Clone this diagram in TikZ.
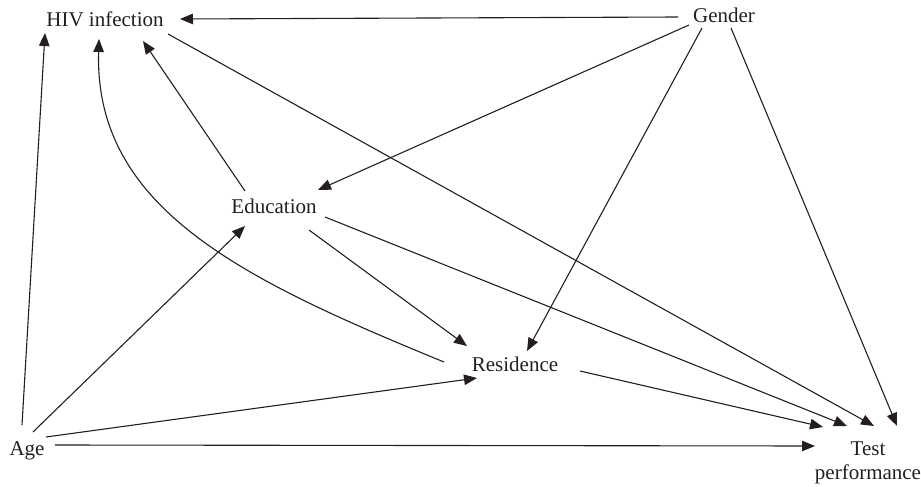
\documentclass[tikz,border=0pt]{standalone}
\usepackage{fontspec}
\setmainfont{Liberation Serif}
\usetikzlibrary{arrows.meta}
\definecolor{ink}{HTML}{231F20}
\begin{document}
\begin{tikzpicture}[x=1pt,y=-1pt,
  lbl/.style={inner sep=0pt,anchor=base,text=ink,font=\fontsize{21}{24}\selectfont},
  arr/.style={draw=ink,line width=1.1pt,-{Triangle[length=13pt,width=10.5pt]}}]
\useasboundingbox (0,0) rectangle (921,487);
\node[lbl] (hiv) at (105,27) {HIV infection};
\node[lbl] (gender) at (724,23) {Gender};
\node[lbl] (edu) at (274,213) {Education};
\node[lbl] (res) at (515,371) {Residence};
\node[lbl] (age) at (27,455) {Age};
\node[lbl,anchor=north,align=center] (test) at (868,442) {Test\\performance};
% Gender
\draw[arr] ([shift={(-46,-6)}]gender.base) -- ([shift={(75,-8)}]hiv.base);
\draw[arr] ([shift={(-35,2)}]gender.base) -- ([shift={(44,-23)}]edu.base);
\draw[arr] ([shift={(-22,5)}]gender.base) -- ([shift={(12,-20)}]res.base);
\draw[arr] ([shift={(7,5)}]gender.base) -- ([shift={(29,-16)}]test.north);
% HIV
\draw[arr] ([shift={(63,7)}]hiv.base) -- ([shift={(6,-16)}]test.north);
% Education
\draw[arr] ([shift={(-29,-22)}]edu.base) -- ([shift={(38,14)}]hiv.base);
\draw[arr] ([shift={(35,17)}]edu.base) -- ([shift={(-48,-25)}]res.base);
\draw[arr] ([shift={(51,4)}]edu.base) -- ([shift={(-21,-16)}]test.north);
% Residence
\draw[arr] ([shift={(-71,-9)}]res.base) .. controls (244,280) and (94,209) .. ([shift={(-6,12)}]hiv.base);
\draw[arr] ([shift={(65,0)}]res.base) -- ([shift={(-45,-15)}]test.north);
% Age
\draw[arr] ([shift={(-5,-30)}]age.base) -- ([shift={(-60,6)}]hiv.base);
\draw[arr] ([shift={(6,-23)}]age.base) -- ([shift={(-29,13)}]edu.base);
\draw[arr] ([shift={(19,-18)}]age.base) -- ([shift={(-38,7)}]res.base);
\draw[arr] ([shift={(28,-10)}]age.base) -- ([shift={(-53,4)}]test.north);
\end{tikzpicture}
\end{document}
